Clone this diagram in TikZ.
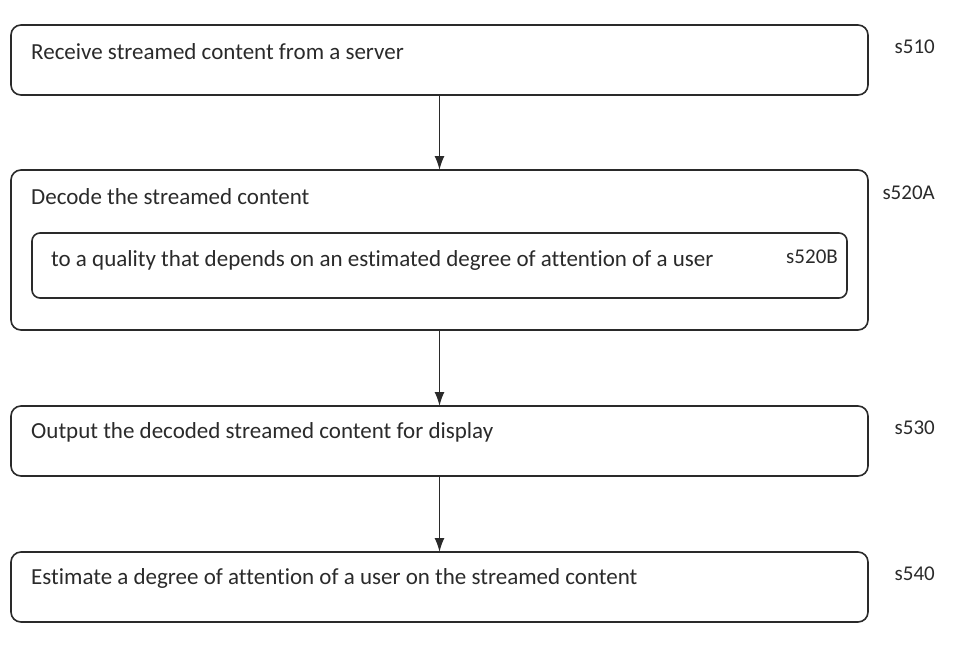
\documentclass[tikz,border=0pt]{standalone}
\usepackage{fontspec}
\setmainfont{Carlito}[Ligatures=NoCommon]
\usetikzlibrary{arrows.meta}
\usetikzlibrary{positioning}
\definecolor{ink}{HTML}{2A2A2A}

\begin{document}
\begin{tikzpicture}[
    stepbox/.style={draw=ink, line width=1.6pt, rounded corners=10pt, minimum width=857pt, minimum height=70pt, outer sep=0pt, inner sep=0pt},
    steptext/.style={anchor=west, inner sep=0pt, text=ink, font=\fontsize{23}{27}\selectfont},
    steplabel/.style={anchor=east, inner sep=0pt, text=ink, font=\fontsize{21}{25}\selectfont},
    node distance=75pt
]
    \useasboundingbox (0pt,0pt) rectangle (960pt,-662pt);

    \node[stepbox] (R) at (439.5pt,-60pt) {};
    \node[stepbox, minimum height=160pt] (D) [below=of R] {};
    \node[stepbox, minimum width=815pt, minimum height=65pt, rounded corners=8pt] (Q) [below=63pt of D.north] {};
    \node[stepbox] (O) [below=76pt of D] {};
    \node[stepbox] (E) [below=76pt of O] {};

    \node[steptext] (Rt) at ([xshift=20pt, yshift=-27pt]R.north west) {Receive streamed content from a server};
    \node[steptext] (Dt) at ([xshift=20pt, yshift=-27pt]D.north west) {Decode the streamed content};
    \node[steptext] (Qt) at ([xshift=19pt, yshift=-27pt]Q.north west) {to a quality that depends on an estimated degree of attention of a user};
    \node[steptext] (Ot) at ([xshift=20pt, yshift=-26pt]O.north west) {Output the decoded streamed content for display};
    \node[steptext] (Et) at ([xshift=20pt, yshift=-26pt]E.north west) {Estimate a degree of attention of a user on the streamed content};

    \node[steplabel] (Rl) at ([xshift=67pt, yshift=-22pt]R.north east) {s510};
    \node[steplabel] (Dl) at ([xshift=67pt, yshift=-23pt]D.north east) {s520A};
    \node[steplabel] (Ql) at ([xshift=-9pt, yshift=-24pt]Q.north east) {s520B};
    \node[steplabel] (Ol) at ([xshift=67pt, yshift=-22pt]O.north east) {s530};
    \node[steplabel] (El) at ([xshift=67pt, yshift=-22pt]E.north east) {s540};

    \draw[-{Latex[length=14pt, width=10pt]}, draw=ink, line width=1.6pt] (R) -- (D);
    \draw[-{Latex[length=14pt, width=10pt]}, draw=ink, line width=1.6pt] (D) -- (O);
    \draw[-{Latex[length=14pt, width=10pt]}, draw=ink, line width=1.6pt] (O) -- (E);
\end{tikzpicture}
\end{document}
